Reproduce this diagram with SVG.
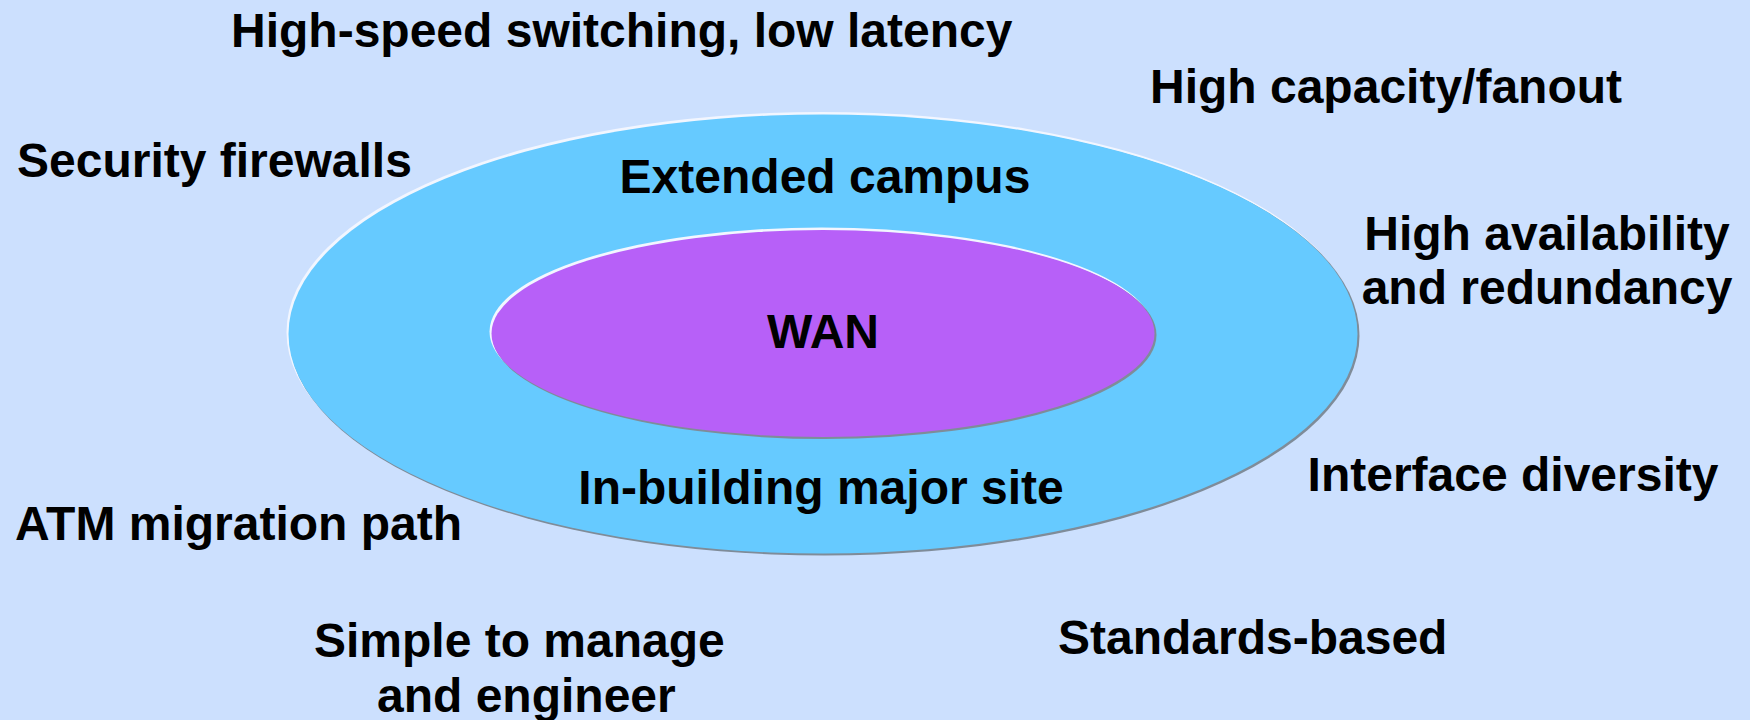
<svg xmlns="http://www.w3.org/2000/svg" width="1750" height="720" viewBox="0 0 1750 720">
<style>
text{font-family:"Liberation Sans",Arial,sans-serif;font-weight:bold;font-size:48px;fill:#000}
.m{text-anchor:middle}
.hi{fill:#f2f6ff}
.sh{fill:#7f8c99}
</style>
<rect x="0" y="0" width="1750" height="720" fill="#CCE0FE"/>
<g id="outer">
<ellipse class="hi" cx="821.5" cy="332" rx="535" ry="220"/>
<ellipse class="sh" cx="824.5" cy="335.5" rx="535" ry="220"/>
<ellipse cx="823" cy="334" rx="534.5" ry="219.5" fill="#66CAFF"/>
</g>
<g id="inner">
<ellipse class="hi" cx="821.5" cy="331.5" rx="332" ry="104"/>
<ellipse class="sh" cx="824.5" cy="335" rx="332" ry="104"/>
<ellipse cx="823" cy="333.5" rx="331.5" ry="103.5" fill="#B760F8"/>
</g>
<g id="connectors"/>
<g id="labels">
<text x="231" y="47">High-speed switching, low latency</text>
<text x="1150" y="103">High capacity/fanout</text>
<text x="17" y="177">Security firewalls</text>
<text class="m" x="825" y="193">Extended campus</text>
<text class="m" x="1547" y="250">High availability</text>
<text class="m" x="1547" y="304">and redundancy</text>
<text class="m" x="823" y="348">WAN</text>
<text class="m" x="821" y="504">In-building major site</text>
<text class="m" x="1513" y="491">Interface diversity</text>
<text x="15" y="540">ATM migration path</text>
<text x="314" y="657">Simple to manage</text>
<text x="377" y="712">and engineer</text>
<text x="1058" y="654">Standards-based</text>
</g>
</svg>
